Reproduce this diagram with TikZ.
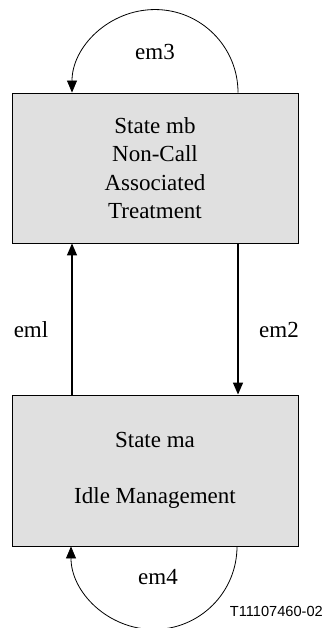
\documentclass[tikz,border=0pt]{standalone}
\usepackage{fontspec}
\setmainfont{Liberation Serif}
\setsansfont{Liberation Sans}
\usetikzlibrary{arrows.meta}
\begin{document}
\begin{tikzpicture}[x=1pt,y=-1pt,
  statebox/.style={draw=black,line width=0.9pt,fill={rgb,255:red,224;green,224;blue,224},
    minimum width=286pt,inner sep=0pt,align=center,
    font=\fontsize{23}{28.5}\selectfont},
  lbl/.style={font=\fontsize{23}{28}\selectfont,inner sep=0pt},
  tip/.style={-{Triangle[length=12pt,width=10pt]}},
  loop/.style={tip,line width=0.8pt},
  trans/.style={tip,line width=1.5pt}]
\useasboundingbox (0,0) rectangle (327,628);
% states
\node[statebox,minimum height=150pt] (mb) at (155,168)
  {State mb\\Non-Call\\Associated\\Treatment};
\node[statebox,minimum height=151pt] (ma) at (155,470.5)
  {State ma\\[27pt]Idle Management};
% anchor points on the box edges
\coordinate (mbNL) at (mb.north -| 72,0);
\coordinate (mbNR) at (mb.north -| 238,0);
\coordinate (mbSL) at (mb.south -| 72,0);
\coordinate (mbSR) at (mb.south -| 238,0);
\coordinate (maNL) at (ma.north -| 72,0);
\coordinate (maNR) at (ma.north -| 238,0);
\coordinate (maSL) at (ma.south -| 71,0);
\coordinate (maSR) at (ma.south -| 237,0);
% transitions between states
\draw[trans] (maNL) -- (mbSL);
\draw[trans] (mbSR) -- (maNR);
% self loops
\draw[loop] (mbNR) arc[start angle=0,end angle=180,radius=83pt];
\draw[loop] (maSR) arc[start angle=0,end angle=-180,radius=83pt];
% labels
\node[lbl] (em3) at (155,52) {em3};
\node[lbl] (em1) at (31,330) {eml};
\node[lbl] (em2) at (279,330) {em2};
\node[lbl] (em4) at (158,577) {em4};
\node[font=\sffamily\fontsize{14.6}{16}\selectfont,inner sep=0pt,anchor=east] (ref) at (323,611) {T11107460-02};
\end{tikzpicture}
\end{document}
